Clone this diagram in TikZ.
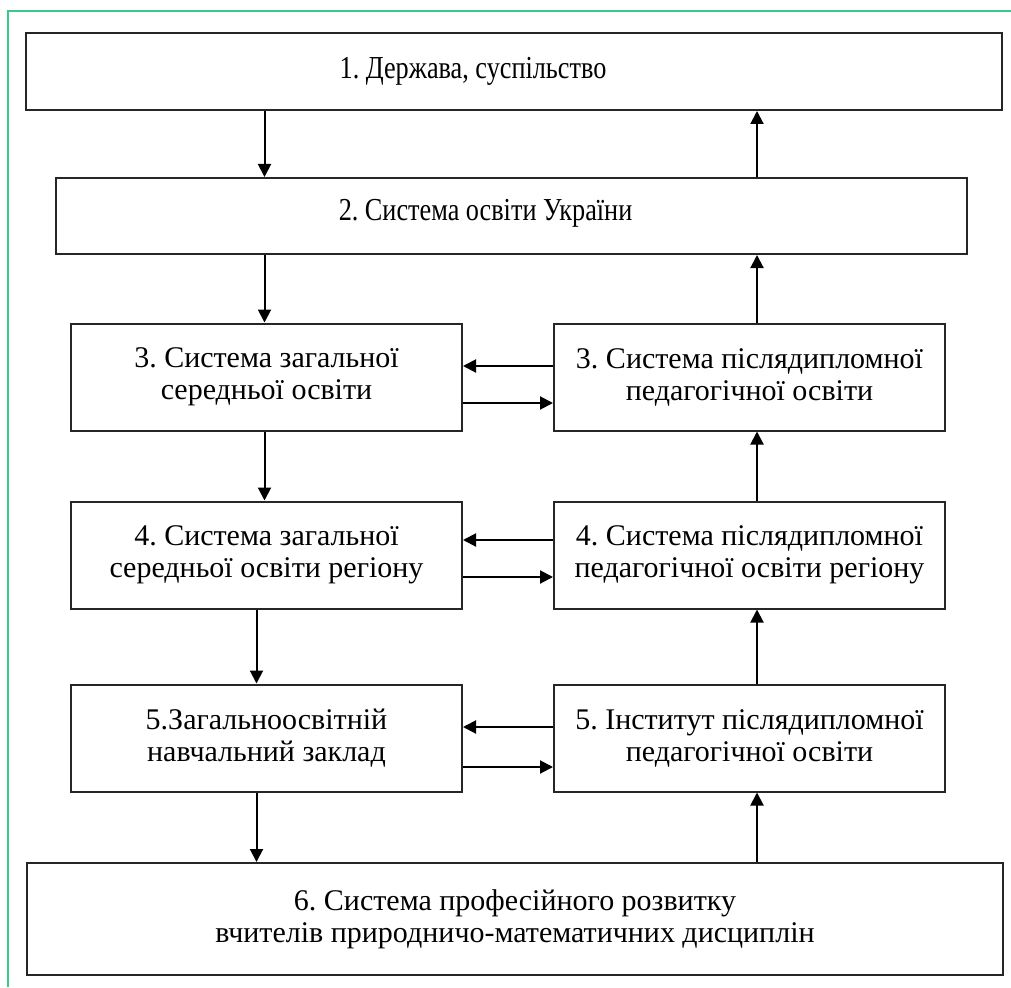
\documentclass[tikz,border=0pt]{standalone}
\usepackage{fontspec}
\setmainfont{Liberation Serif}
\newfontfamily\condensed[FakeStretch=0.82]{Liberation Serif}
\usepackage{tikz}
\usetikzlibrary{positioning,arrows.meta}
\definecolor{framegreen}{RGB}{60,200,140}
\frenchspacing

\begin{document}
\begin{tikzpicture}[x=1pt, y=-1pt, align=center, font=\fontsize{30}{32}\selectfont,
    box/.style={draw=black!85, line width=2pt, inner sep=0pt},
    col/.style={box, minimum width=391pt, minimum height=107pt},
    wide/.style={font=\condensed\fontsize{32}{34}\selectfont},
    flow/.style={-{Triangle[length=13pt, width=13pt]}, line width=2pt}]
    \useasboundingbox (0,0) rectangle (1011,987);
    \draw[framegreen, line width=1.5pt] (8,987) |- (1011,11);

    \node [box, minimum width=976pt, minimum height=77pt,
        label={[wide, xshift=-41pt]center:1. Держава, суспільство}] (state) at (514,71.5) {};
    \node [box, minimum width=911pt, minimum height=76pt, below=66pt of state, xshift=-2.5pt,
        label={[wide, xshift=-26pt, yshift=3pt]center:2. Система освіти України}] (edu) {};

    \node [col] (school3) at (266.5,377) {3. Система загальної\\середньої освіти};
    \node [col, right=90pt of school3] (post3) {3. Система післядипломної\\педагогічної освіти};
    \node [col, below=69pt of school3] (school4) {4. Система загальної\\середньої освіти регіону};
    \node [col, right=90pt of school4] (post4) {4. Система післядипломної\\педагогічної освіти регіону};
    \node [col, below=74pt of school4] (school5) {5.Загальноосвітній\\навчальний заклад};
    \node [col, right=90pt of school5] (post5) {5. Інститут післядипломної\\педагогічної освіти};

    \node [box, minimum width=976pt, minimum height=112pt] (prof) at (515,919)
        {6. Система професійного розвитку\\вчителів природничо-математичних дисциплін};

    % columns of the vertical arrows
    \coordinate (down) at (264.5,0);
    \coordinate (downlow) at (256.5,0);
    \coordinate (up) at (757,0);

    \draw[flow] (state.south -| down) -- (edu.north -| down);
    \draw[flow] (edu.south -| down) -- (school3.north -| down);
    \draw[flow] (school3.south -| down) -- (school4.north -| down);
    \draw[flow] (school4.south -| downlow) -- (school5.north -| downlow);
    \draw[flow] (school5.south -| downlow) -- (prof.north -| downlow);

    \draw[flow] (prof.north -| up) -- (post5.south -| up);
    \draw[flow] (post5.north -| up) -- (post4.south -| up);
    \draw[flow] (post4.north -| up) -- (post3.south -| up);
    \draw[flow] (post3.north -| up) -- (edu.south -| up);
    \draw[flow] (edu.north -| up) -- (state.south -| up);

    \foreach \r/\ya/\yb in {3/366/403, 4/540/577, 5/727/767} {
        \draw[flow] (post\r.west |- 0,\ya) -- (school\r.east |- 0,\ya);
        \draw[flow] (school\r.east |- 0,\yb) -- (post\r.west |- 0,\yb);
    }
\end{tikzpicture}
\end{document}
